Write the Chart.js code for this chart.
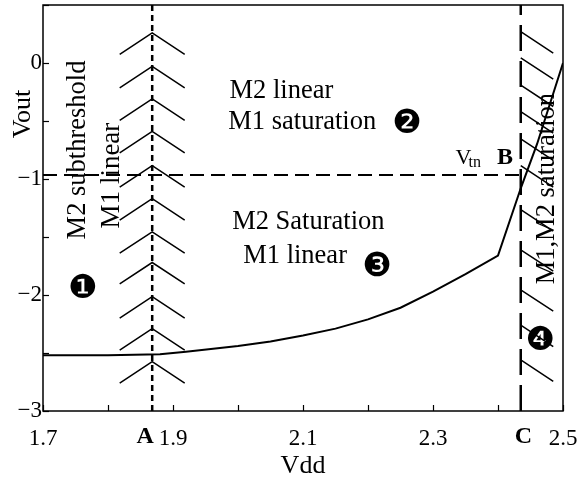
<!DOCTYPE html>
<html><head><meta charset="utf-8">
<script src="https://cdn.jsdelivr.net/npm/chart.js@4/dist/chart.umd.min.js"></script>
<style>html,body{margin:0;padding:0;background:#fff}</style>
</head><body>
<canvas id="c" width="580" height="485" style="width:580px;height:485px;display:block"></canvas>
<script>
// ---- data ----
const curveVdd  = [1.70, 1.80, 1.88, 1.92, 2.00, 2.05, 2.10, 2.15, 2.20, 2.25, 2.30, 2.35, 2.40, 2.435, 2.46, 2.50];
const curveVout = [-2.52, -2.52, -2.51, -2.49, -2.44, -2.40, -2.35, -2.29, -2.21, -2.11, -1.97, -1.82, -1.66, -1.08, -0.70, 0.00];
const lineA = 1.868;          // Vdd of boundary A
const lineC = 2.435;          // Vdd of boundary C
const vtnLevel = -0.965;      // Vout of the Vtn line
const chevronPeaksA = [0.26, -0.03, -0.31, -0.59, -0.885, -1.17, -1.455, -1.72, -2.015, -2.29, -2.575];
const hatchStartsC  = [0.27, 0.045, -0.19, -0.42, -0.655, -0.885, -1.265, -1.61, -1.955, -2.26, -2.56];
const xTicks = [1.7, 1.8, 1.9, 2.0, 2.1, 2.2, 2.3, 2.4, 2.5];
const xTickLabels = ['1.7', '', '1.9', '', '2.1', '', '2.3', '', '2.5'];
const yTicks = [-3, -2.5, -2, -1.5, -1, -0.5, 0, 0.5];
const yTickLabels = ['\u22123', '', '\u22122', '', '\u22121', '', '0', ''];

// ---- derived mark geometry (in data units) ----
const armDx = 0.05, armDy = 0.185;
const chevronData = [];
chevronPeaksA.forEach(p => {
  chevronData.push({x: lineA - armDx, y: p - armDy}, {x: lineA, y: p}, {x: lineA + armDx, y: p - armDy}, {x: lineA, y: null});
});
const hatchData = [];
hatchStartsC.forEach(p => {
  hatchData.push({x: lineC, y: p}, {x: lineC + armDx, y: p - armDy}, {x: lineC, y: null});
});

const SERIF = '"Liberation Serif", "Times New Roman", serif';
const notes = [
  {text: 'M2 subthreshold', x: 1.754, y: -0.75, rot: true, size: 26.5},
  {text: 'M1 linear', x: 1.806, y: -0.97, rot: true, size: 27},
  {text: 'M2 linear', x: 1.987, y: -0.245, align: 'left', size: 26.5},
  {text: 'M1 saturation', x: 1.985, y: -0.507, align: 'left', size: 26.5},
  {text: 'M2 Saturation', x: 1.991, y: -1.375, align: 'left', size: 26.5},
  {text: 'M1 linear', x: 2.008, y: -1.668, align: 'left', size: 26.5},
  {text: 'M1,M2 saturation', x: 2.4754, y: -1.083, rot: true, size: 26.5},
  {text: 'V', x: 2.3346, y: -0.818, align: 'left', size: 22},
  {text: 'tn', x: 2.3546, y: -0.86, align: 'left', size: 16},
  {text: 'B', x: 2.3985, y: -0.818, align: 'left', size: 24, bold: true},
  {text: 'A', x: 1.857, y: -3.22, size: 24, bold: true},
  {text: 'C', x: 2.439, y: -3.22, size: 24, bold: true},
  {text: 'Vout', x: 1.67, y: -0.44, rot: true, size: 26},
  {text: '\u2776', x: 1.7615, y: -1.955, size: 33, sans: true},
  {text: '\u2777', x: 2.26, y: -0.533, size: 33, sans: true},
  {text: '\u2778', x: 2.214, y: -1.765, size: 33, sans: true},
  {text: '\u2779', x: 2.465, y: -2.40, size: 33, sans: true}
];

const decor = {
  id: 'decor',
  afterDatasetsDraw(chart) {
    const {ctx, chartArea: a, scales: {x, y}} = chart;
    ctx.save();
    ctx.strokeStyle = '#000';
    ctx.lineWidth = 1.5;
    ctx.strokeRect(a.left, a.top, a.right - a.left, a.bottom - a.top);
    ctx.lineWidth = 1.2;
    x.ticks.forEach(t => {
      const px = Math.round(x.getPixelForValue(t.value)) + 0.5;
      ctx.beginPath(); ctx.moveTo(px, a.bottom); ctx.lineTo(px, a.bottom - 6); ctx.stroke();
    });
    y.ticks.forEach(t => {
      const py = Math.round(y.getPixelForValue(t.value)) + 0.5;
      ctx.beginPath(); ctx.moveTo(a.left, py); ctx.lineTo(a.left + 6, py); ctx.stroke();
    });
    ctx.fillStyle = '#000';
    notes.forEach(n => {
      const px = x.getPixelForValue(n.x), py = y.getPixelForValue(n.y);
      ctx.font = (n.bold ? 'bold ' : '') + n.size + 'px ' + (n.sans ? '"DejaVu Sans", sans-serif' : SERIF);
      ctx.textBaseline = 'middle';
      ctx.textAlign = n.align || 'center';
      ctx.save();
      ctx.translate(px, py);
      if (n.rot) ctx.rotate(-Math.PI / 2);
      ctx.fillText(n.text, 0, 0);
      ctx.restore();
    });
    ctx.restore();
  }
};

const base = {borderColor: '#000', pointRadius: 0, showLine: true, fill: false, tension: 0, spanGaps: false};
new Chart(document.getElementById('c'), {
  type: 'scatter',
  data: {
    datasets: [
      Object.assign({}, base, {data: curveVdd.map((v, i) => ({x: v, y: curveVout[i]})), borderWidth: 2}),
      Object.assign({}, base, {data: [{x: lineA, y: -3}, {x: lineA, y: 0.5}], borderWidth: 2.5, borderDash: [6, 4]}),
      Object.assign({}, base, {data: [{x: lineC, y: -3}, {x: lineC, y: 0.5}], borderWidth: 2.5, borderDash: [26, 10]}),
      Object.assign({}, base, {data: [{x: 1.7, y: vtnLevel}, {x: lineC, y: vtnLevel}], borderWidth: 2, borderDash: [14, 7]}),
      Object.assign({}, base, {data: chevronData, borderWidth: 1.5}),
      Object.assign({}, base, {data: hatchData, borderWidth: 1.5})
    ]
  },
  options: {
    responsive: false,
    animation: false,
    devicePixelRatio: 1,
    layout: {padding: {top: 5, right: 17, left: 0, bottom: 0}},
    plugins: {legend: {display: false}, tooltip: {enabled: false}},
    scales: {
      x: {
        type: 'linear', min: 1.7, max: 2.5,
        afterBuildTicks: s => { s.ticks = xTicks.map(v => ({value: v})); },
        afterFit: s => { s.height = 74; s.paddingLeft = 0; s.paddingRight = 0; },
        grid: {display: false, drawTicks: false},
        border: {display: false},
        ticks: {
          autoSkip: false, maxRotation: 0, padding: 14, color: '#000',
          font: {family: SERIF, size: 23},
          callback: (v, i) => xTickLabels[i]
        },
        title: {display: true, text: 'Vdd', color: '#000', font: {family: SERIF, size: 26}, padding: {top: 0, bottom: 3}}
      },
      y: {
        type: 'linear', min: -3, max: 0.5,
        afterBuildTicks: s => { s.ticks = yTicks.map(v => ({value: v})); },
        afterFit: s => { s.width = 43; s.paddingTop = 0; s.paddingBottom = 0; },
        grid: {display: false, drawTicks: false},
        border: {display: false},
        ticks: {
          autoSkip: false, padding: 1, color: '#000',
          font: {family: SERIF, size: 23},
          callback: (v, i) => yTickLabels[i]
        }
      }
    }
  },
  plugins: [decor]
});
</script>
</body></html>
